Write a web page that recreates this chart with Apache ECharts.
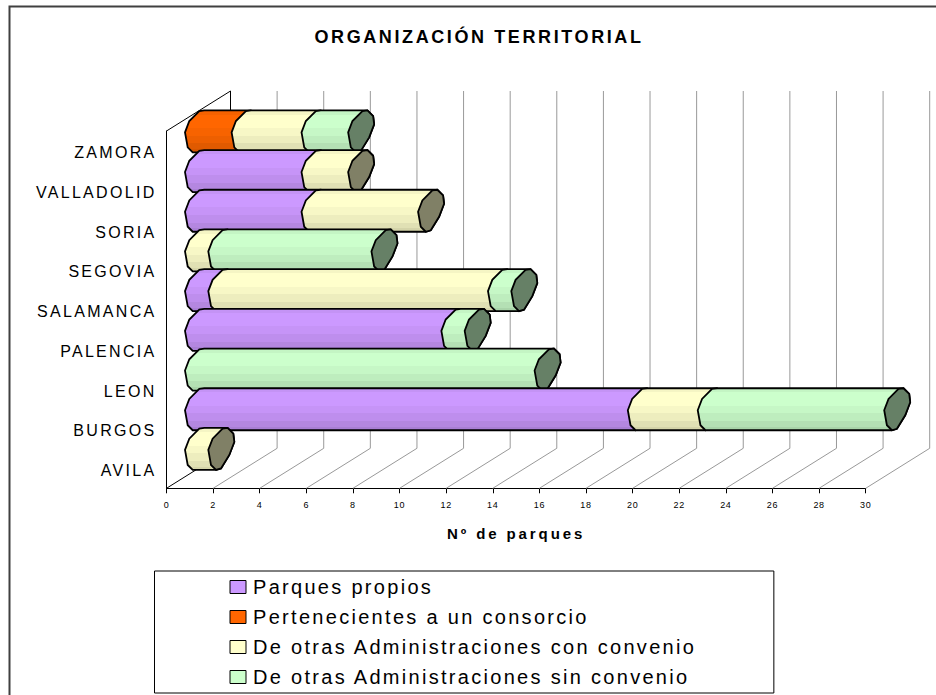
<!DOCTYPE html>
<html>
<head>
<meta charset="utf-8">
<script src="https://cdn.jsdelivr.net/npm/echarts@6/dist/echarts.min.js"></script>
<style>
    html, body { margin: 0; padding: 0; background: #fff; overflow: hidden; }
    #chart { width: 936px; height: 695px; }
    /* the original has wide tracking, canvas text can't do that so it's svg */
    text { letter-spacing: 2.3px; }
    text[style*="18px"] { letter-spacing: 2.6px; }
    text[style*="15px"] { letter-spacing: 2.9px; }
    text[style*="9px"] { letter-spacing: 0.7px; }
    text[style*="20px"] { letter-spacing: 2.3px; }
</style>
</head>
<body>
<div id="chart"></div>
<script>
const provincias = ["AVILA", "BURGOS", "LEON", "PALENCIA", "SALAMANCA", "SEGOVIA", "SORIA", "VALLADOLID", "ZAMORA"];
const xTicks = [0, 2, 4, 6, 8, 10, 12, 14, 16, 18, 20, 22, 24, 26, 28, 30];

const propios = [0, 19, 0, 11, 1, 0, 5, 5, 0];
const consorcio = [0, 0, 0, 0, 0, 0, 0, 0, 2];
const conConvenio = [1, 3, 0, 0, 12, 1, 5, 2, 3];
const sinConvenio = [0, 8, 15, 1, 1, 7, 0, 0, 2];

const nombres = [
    "Parques propios",
    "Pertenecientes a un consorcio",
    "De otras Administraciones con convenio",
    "De otras Administraciones sin convenio",
];
const valores = [propios, consorcio, conConvenio, sinConvenio];
const colores = ["#CC99FF", "#FF6600", "#FFFFCC", "#CCFFCC"];

// profundidad del falso 3D
const DEPTH_X = 64;
const DEPTH_Y = 40;
const BAR_SHIFT_X = 18.5;
const BAR_H = 42;

// contorno de la tapa, como en el original (casi un octogono inclinado)
const capLeft = [[7.7, 42], [2.7, 37], [0, 22], [4.3, 10.7], [14.3, 0.7], [19.3, 0]];
const capRight = [[19.3, 0], [25, 5.7], [26, 14], [21, 27], [12.7, 40.5], [7.7, 42]];

const shade = (hex, k) => {
    const n = parseInt(hex.slice(1), 16);
    const c = [n >> 16, (n >> 8) & 255, n & 255].map((v) => Math.round(v * k));
    return "rgb(" + c.join(",") + ")";
};

// bandas horizontales del degradado
const bandas = (hex) => {
    const steps = [[0, 0.96], [0.1, 1], [0.42, 0.97], [0.6, 0.93], [0.78, 0.88], [0.92, 0.83]];
    const stops = [];
    steps.forEach((s, i) => {
        const next = i < steps.length - 1 ? steps[i + 1][0] : 1;
        stops.push({ offset: s[0], color: shade(hex, s[1]) });
        stops.push({ offset: next, color: shade(hex, s[1]) });
    });
    return new echarts.graphic.LinearGradient(0, 0, 0, 1, stops);
};

// [indice provincia, inicio, fin, es el ultimo tramo]
const tramos = (serie) => {
    const out = [];
    provincias.forEach((_, i) => {
        if (!valores[serie][i]) return;
        let start = 0;
        let total = 0;
        valores.forEach((v, s) => {
            if (s < serie) start += v[i];
            total += v[i];
        });
        const end = start + valores[serie][i];
        out.push([i, start, end, end === total ? 1 : 0]);
    });
    return out;
};

const barItem = (serie) => (params, api) => {
    const cat = api.value(0);
    const c0 = api.coord([api.value(1), cat]);
    const c1 = api.coord([api.value(2), cat]);
    const top = c0[1] - BAR_H + 1.5;
    const x0 = c0[0] + BAR_SHIFT_X;
    const x1 = c1[0] + BAR_SHIFT_X;
    const z2 = (9 - cat) * 10 + serie;
    const line = { stroke: "#000", lineWidth: 1.8 };

    const body = capLeft.map((p) => [x0 + p[0], top + p[1]])
        .concat(capRight.map((p) => [x1 + p[0], top + p[1]]));
    const children = [{
        type: "polygon",
        z2,
        shape: { points: body },
        style: { fill: bandas(colores[serie]), ...line },
    }];

    if (api.value(3)) {
        const cap = capLeft.concat(capRight).map((p) => [x1 + p[0], top + p[1]]);
        children.push({
            type: "polygon",
            z2: z2 + 1,
            shape: { points: cap },
            style: { fill: shade(colores[serie], 0.5), ...line },
        });
    }
    return { type: "group", children };
};

// paredes y rejilla
const gridItem = (params, api) => {
    const v = api.value(0);
    const half = api.size([0, 1])[1] / 2;
    const p = api.coord([v, 0]);
    const bottom = p[1] + half;
    const topFront = api.coord([v, provincias.length - 1])[1] - half;
    const topBack = topFront - DEPTH_Y;
    const color = v === 0 ? "#000" : "#999";
    const children = [{
        type: "polyline",
        shape: { points: [[p[0], bottom], [p[0] + DEPTH_X, bottom - DEPTH_Y], [p[0] + DEPTH_X, topBack]] },
        style: { stroke: color, lineWidth: 1, fill: "none" },
    }];
    if (v === 0) {
        children.push({
            type: "line",
            shape: { x1: p[0], y1: topFront, x2: p[0] + DEPTH_X, y2: topBack },
            style: { stroke: "#000", lineWidth: 1 },
        });
    }
    return { type: "group", children };
};

const chart = echarts.init(document.getElementById("chart"), null, { renderer: "svg" });

chart.setOption({
    animation: false,
    backgroundColor: "#fff",
    title: {
        text: "ORGANIZACIÓN TERRITORIAL",
        left: 474,
        top: 23,
        textAlign: "center",
        textStyle: { fontFamily: "Liberation Sans", fontSize: 18, fontWeight: "bold", color: "#000" },
    },
    grid: { left: 166.5, top: 131, width: 699.2, height: 357.3 },
    xAxis: {
        type: "value",
        min: 0,
        max: 30,
        interval: 2,
        name: "Nº de parques",
        nameLocation: "middle",
        nameGap: 38,
        nameTextStyle: { fontFamily: "Liberation Sans", fontSize: 15, fontWeight: "bold", color: "#000" },
        axisLine: { show: true, lineStyle: { color: "#000", width: 1 } },
        axisTick: { show: true, length: 5, lineStyle: { color: "#000", width: 1 } },
        splitLine: { show: false },
        axisLabel: { fontFamily: "Liberation Sans", fontSize: 9, color: "#000", margin: 12 },
    },
    yAxis: {
        type: "category",
        data: provincias,
        axisLine: { show: true, onZero: false, lineStyle: { color: "#000", width: 1 } },
        axisTick: { show: false },
        axisLabel: { fontFamily: "Liberation Sans", fontSize: 16, color: "#000", margin: 10, verticalAlign: "top", lineHeight: 4 },
    },
    legend: {
        data: nombres,
        orient: "vertical",
        left: 154.5,
        top: 571,
        padding: [6, 164, 6, 75],
        itemWidth: 16,
        itemHeight: 13,
        itemGap: 10,
        selectedMode: false,
        icon: "rect",
        backgroundColor: "#fff",
        borderColor: "#000",
        borderWidth: 1,
        itemStyle: { borderColor: "#000", borderWidth: 1 },
        textStyle: { fontFamily: "Liberation Sans", fontSize: 20, color: "#000", padding: [0, 0, 0, 2] },
    },
    graphic: [{
        type: "polyline",
        silent: true,
        shape: { points: [[9.5, 1000], [9.5, 6.5], [1000, 6.5]] },
        style: { stroke: "#404040", lineWidth: 2, fill: "none" },
    }],
    series: [
        {
            type: "custom",
            name: "rejilla",
            silent: true,
            z: 1,
            renderItem: gridItem,
            data: xTicks.map((v) => [v, 0]),
        },
    ].concat(nombres.map((name, s) => ({
        type: "custom",
        name,
        silent: true,
        z: 2,
        itemStyle: { color: colores[s] },
        renderItem: barItem(s),
        data: tramos(s),
    }))),
});
</script>
</body>
</html>
